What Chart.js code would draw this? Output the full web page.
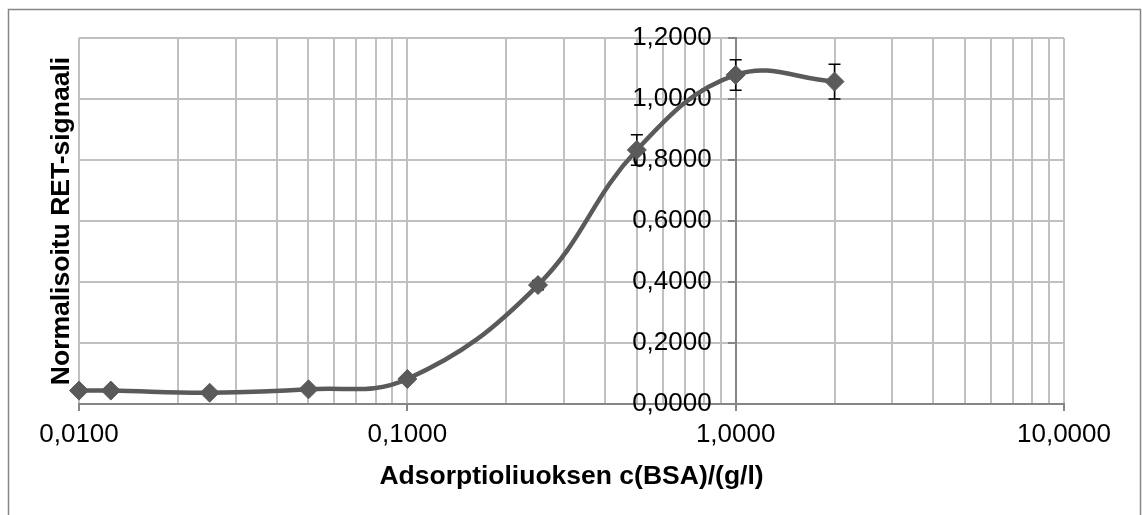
<!DOCTYPE html>
<html>
<head>
<meta charset="utf-8">
<script src="https://cdn.jsdelivr.net/npm/chart.js@4/dist/chart.umd.min.js"></script>
<style>
    html, body { margin: 0; padding: 0; background: #fff; }
    #wrap { width: 1142px; height: 515px; }
</style>
</head>
<body>
<div id="wrap"><canvas id="adsorptionChart" width="1142" height="515"></canvas></div>
<script>
// BSA concentration in the adsorption solution, g/l
var concentrations = [0.01, 0.0125, 0.025, 0.05, 0.1, 0.25, 0.5, 1, 2];
// normalised RET signal
var retSignal = [0.044, 0.044, 0.037, 0.048, 0.082, 0.390, 0.833, 1.079, 1.057];
// error bar half-heights
var retError = [0, 0, 0, 0, 0.005, 0.015, 0.05, 0.05, 0.057];
// labelled decades on the x axis
var xDecades = [0.01, 0.1, 1, 10];
var yTicks = [0, 0.2, 0.4, 0.6, 0.8, 1.0, 1.2];

var labelFont = {family: "'Liberation Sans', Arial, sans-serif", size: 26};
var titleFont = {family: "'Liberation Sans', Arial, sans-serif", size: 26.5, weight: "bold"};
var gridGray = "#c0c0c0";
var axisGray = "#868686";

// Finnish style decimal comma, four decimals
function formatValue(v) {
    return Number(v).toFixed(4).replace(".", ",");
}

// outer frame around the chart
var framePlugin = {
    id: "frame",
    beforeDraw: function (chart) {
        var ctx = chart.ctx;
        ctx.save();
        ctx.fillStyle = "#fff";
        ctx.fillRect(0, 0, chart.width, chart.height);
        ctx.strokeStyle = axisGray;
        ctx.lineWidth = 1.5;
        ctx.strokeRect(8.5, 9.5, chart.width - 1.5 - 8.5, chart.height + 20);
        ctx.restore();
    }
};

// vertical error bars with caps
var errorBarPlugin = {
    id: "errorBars",
    beforeDatasetsDraw: function (chart) {
        var ctx = chart.ctx;
        var xs = chart.scales.x;
        var ys = chart.scales.y;
        ctx.save();
        ctx.strokeStyle = "#000";
        ctx.lineWidth = 1.5;
        concentrations.forEach(function (c, i) {
            if (!retError[i]) return;
            var px = xs.getPixelForValue(c);
            var top = ys.getPixelForValue(retSignal[i] + retError[i]);
            var bottom = ys.getPixelForValue(retSignal[i] - retError[i]);
            ctx.beginPath();
            ctx.moveTo(px, top);
            ctx.lineTo(px, bottom);
            ctx.moveTo(px - 6, top);
            ctx.lineTo(px + 6, top);
            ctx.moveTo(px - 6, bottom);
            ctx.lineTo(px + 6, bottom);
            ctx.stroke();
        });
        ctx.restore();
    }
};

var ctx = document.getElementById("adsorptionChart").getContext("2d");
var adsorptionChart = new Chart(ctx, {
    type: "line",
    data: {
        datasets: [
            {
                label: "RET-signaali",
                data: concentrations.map(function (c, i) {
                    return {x: c, y: retSignal[i]};
                }),
                borderColor: "#5a5a5a",
                backgroundColor: "#5a5a5a",
                borderWidth: 4.5,
                tension: 0.4,
                pointStyle: "rectRot",
                pointRadius: 9.5,
                pointBorderWidth: 1,
                pointBackgroundColor: "#5a5a5a",
                pointBorderColor: "#5a5a5a",
                clip: false
            }
        ]
    },
    options: {
        responsive: false,
        animation: false,
        devicePixelRatio: 1,
        layout: {
            padding: {left: 42, right: 78, top: 38, bottom: 12.6}
        },
        plugins: {
            legend: {display: false},
            tooltip: {enabled: false}
        },
        scales: {
            x: {
                type: "logarithmic",
                position: "bottom",
                min: 0.01,
                max: 10,
                afterBuildTicks: function (scale) {
                    var ticks = [];
                    for (var d = 0; d < xDecades.length - 1; d++) {
                        for (var k = 1; k < 10; k++) {
                            ticks.push({value: xDecades[d] * k});
                        }
                    }
                    ticks.push({value: xDecades[xDecades.length - 1]});
                    scale.ticks = ticks;
                },
                grid: {
                    color: gridGray,
                    lineWidth: 2,
                    tickLength: 7,
                    tickWidth: 2,
                    tickColor: function (c) {
                        return c.tick && xDecades.indexOf(c.tick.value) >= 0 ? axisGray : "rgba(0,0,0,0)";
                    }
                },
                border: {color: axisGray, width: 2},
                ticks: {
                    autoSkip: false,
                    maxRotation: 0,
                    padding: 8,
                    color: "#000",
                    font: labelFont,
                    callback: function (value) {
                        return xDecades.indexOf(value) >= 0 ? formatValue(value) : "";
                    }
                },
                title: {
                    display: true,
                    text: "Adsorptioliuoksen c(BSA)/(g/l)",
                    color: "#000",
                    font: titleFont,
                    padding: {top: 3, bottom: 9.4}
                }
            },
            y: {
                type: "linear",
                position: {x: 1},
                min: 0,
                max: 1.2,
                afterBuildTicks: function (scale) {
                    scale.ticks = yTicks.map(function (v) {
                        return {value: v};
                    });
                },
                // labels of an axis placed at a value sit right on the line, push them left
                afterFit: function (scale) {
                    if (scale._labelShift) return;
                    scale._labelShift = true;
                    var drawLabels = scale.drawLabels;
                    scale.drawLabels = function (area) {
                        var c = this.ctx;
                        c.save();
                        c.translate(-24, 0);
                        drawLabels.call(this, area);
                        c.restore();
                    };
                },
                grid: {
                    color: function (c) {
                        return c.tick && c.tick.value === 0 ? axisGray : gridGray;
                    },
                    lineWidth: 2,
                    tickLength: 7,
                    tickWidth: 2,
                    tickColor: axisGray
                },
                border: {color: axisGray, width: 2},
                ticks: {
                    color: "#000",
                    font: labelFont,
                    callback: function (value) {
                        return formatValue(value);
                    }
                }
            },
            yTitle: {
                type: "linear",
                position: "left",
                grid: {display: false, drawTicks: false},
                border: {display: false},
                ticks: {display: false},
                title: {
                    display: true,
                    text: "Normalisoitu RET-signaali",
                    color: "#000",
                    font: titleFont,
                    padding: {top: 4, bottom: 1.2}
                }
            }
        }
    },
    plugins: [framePlugin, errorBarPlugin]
});
</script>
</body>
</html>
